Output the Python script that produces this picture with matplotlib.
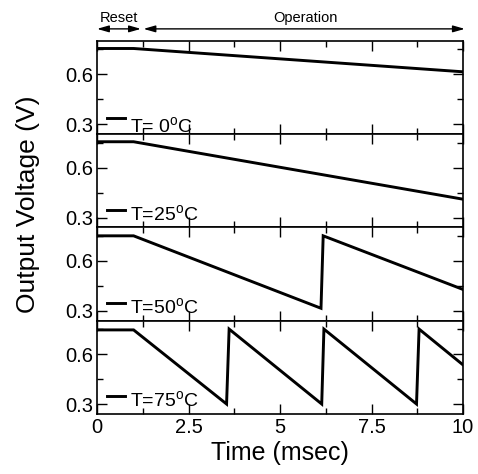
import matplotlib
matplotlib.use("Agg")
import matplotlib.pyplot as plt
from matplotlib.ticker import MultipleLocator

plt.rcParams['font.family'] = ['Liberation Sans', 'DejaVu Sans']
plt.rcParams['mathtext.fontset'] = 'custom'
plt.rcParams['mathtext.rm'] = 'Liberation Sans'
plt.rcParams['mathtext.it'] = 'Liberation Sans'

# Data
time_0 = [0, 1.0, 10]
volt_0 = [0.755, 0.755, 0.615]
time_25 = [0, 1.0, 10]
volt_25 = [0.755, 0.755, 0.41]
time_50 = [0, 1.0, 6.12, 6.18, 10]
volt_50 = [0.75, 0.75, 0.315, 0.75, 0.428]
time_75 = [0, 1.0, 3.54, 3.61, 6.14, 6.2, 8.73, 8.8, 10]
volt_75 = [0.745, 0.745, 0.30, 0.75, 0.30, 0.75, 0.30, 0.75, 0.535]
labels = ["T= 0$^\\mathregular{o}$C", "T=25$^\\mathregular{o}$C",
          "T=50$^\\mathregular{o}$C", "T=75$^\\mathregular{o}$C"]
x_ticks = [0, 2.5, 5, 7.5, 10]
x_tick_labels = ["0", "2.5", "5", "7.5", "10"]
y_ticks = [0.3, 0.6]
y_tick_labels = ["0.3", "0.6"]

series = [(time_0, volt_0), (time_25, volt_25), (time_50, volt_50), (time_75, volt_75)]

fig = plt.figure(figsize=(4.78, 4.74), dpi=100)
left, right, bottom, top = 97/478, 463/478, 1 - 414/474, 1 - 41/474
h = (top - bottom) / 4
axes = []
for i in range(4):
    ax = fig.add_axes([left, top - (i + 1) * h, right - left, h])
    axes.append(ax)

text_base = [0.02, 0.085, 0.085, 0.085]
line_y = [0.17, 0.19, 0.19, 0.19]
for i, ax in enumerate(axes):
    t, v = series[i]
    ax.plot(t, v, color='black', lw=2.1, solid_joinstyle='miter')
    ax.set_xlim(0, 10)
    ax.set_ylim(0.24, 0.80)
    ax.set_xticks(x_ticks)
    ax.xaxis.set_minor_locator(MultipleLocator(1.25))
    ax.set_yticks(y_ticks)
    ax.set_yticklabels(y_tick_labels)
    ax.yaxis.set_minor_locator(MultipleLocator(0.15))
    ax.tick_params(which='both', direction='in', top=True, right=True, width=1.0)
    ax.tick_params(which='major', length=7, labelsize=14.5, pad=3)
    ax.tick_params(which='minor', length=4)
    for s in ax.spines.values():
        s.set_linewidth(1.2)
    if i < 3:
        ax.set_xticklabels([])
    else:
        ax.set_xticklabels(x_tick_labels)
    ax.plot([0.027, 0.077], [line_y[i], line_y[i]], transform=ax.transAxes,
            color='black', lw=2.1)
    ax.text(0.09, text_base[i], labels[i], transform=ax.transAxes,
            fontsize=14, va='baseline', ha='left')

ax0 = axes[0]
ax0.annotate('', xy=(0, 1.13), xytext=(1.2, 1.13), xycoords=('data', 'axes fraction'),
             textcoords=('data', 'axes fraction'), annotation_clip=False,
             arrowprops=dict(arrowstyle='<|-|>,head_length=0.7,head_width=0.2',
                             color='black', lw=1.0, shrinkA=0, shrinkB=0))
ax0.annotate('', xy=(1.27, 1.13), xytext=(10.05, 1.13), xycoords=('data', 'axes fraction'),
             textcoords=('data', 'axes fraction'), annotation_clip=False,
             arrowprops=dict(arrowstyle='<|-|>,head_length=0.7,head_width=0.2',
                             color='black', lw=1.0, shrinkA=0, shrinkB=0))
ax0.text(0.6, 1.25, 'Reset', transform=ax0.get_xaxis_transform(), ha='center',
         va='center', fontsize=10.5)
ax0.text(5.7, 1.25, 'Operation', transform=ax0.get_xaxis_transform(), ha='center',
         va='center', fontsize=10.5)

fig.text(28/478, 1 - 204/474, 'Output Voltage (V)', rotation=90, ha='center',
         va='center', fontsize=19)
fig.text((97 + 463) / 2 / 478, 1 - 453/474, 'Time (msec)', ha='center', va='center',
         fontsize=18)

fig.savefig('out.png', dpi=100)
